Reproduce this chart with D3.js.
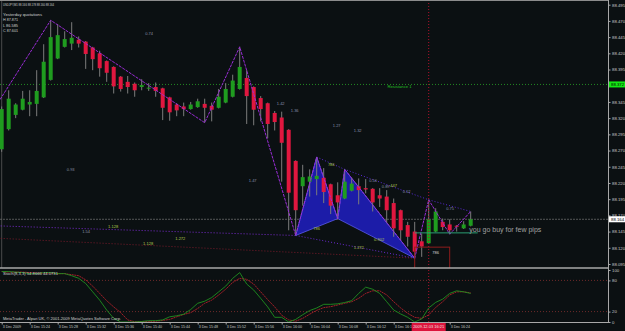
<!DOCTYPE html>
<html>
<head>
<meta charset="utf-8">
<script src="https://cdn.jsdelivr.net/npm/d3@7"></script>
<style>
  body { margin: 0; background: #0b1012; }
  svg { display: block; }
  text { font-family: "Liberation Sans", Arial, sans-serif; }
</style>
</head>
<body>
<div id="chart"></div>
<script>
// USDJPY M1, 3 Dec 2009 15:20 .. 16:27
const opens  = [88.272,88.303,88.325,88.333,88.341,88.342,88.352,88.379,88.412,88.430,
                88.435,88.441,88.438,88.429,88.420,88.408,88.399,88.384,88.376,88.373,
                88.368,88.366,88.368,88.366,88.352,88.341,88.338,88.334,88.337,88.342,
                88.339,88.336,88.344,88.353,88.365,88.382,88.368,88.351,88.343,88.328,
                88.321,88.302,88.254,88.215,88.222,88.226,88.228,88.218,88.201,88.196,
                88.208,88.215,88.212,88.211,88.201,88.199,88.189,88.178,88.155,88.145,
                88.130,88.127,88.145,88.160,88.156,88.154,88.150,88.154]
const highs  = [88.338,88.363,88.343,88.362,88.363,88.394,88.434,88.471,88.465,88.454,
                88.468,88.446,88.439,88.430,88.424,88.409,88.400,88.385,88.385,88.375,
                88.380,88.374,88.375,88.367,88.353,88.343,88.344,88.345,88.350,88.350,
                88.344,88.365,88.374,88.387,88.430,88.394,88.369,88.354,88.344,88.331,
                88.330,88.303,88.255,88.248,88.241,88.260,88.243,88.219,88.221,88.241,
                88.228,88.227,88.226,88.212,88.212,88.209,88.196,88.179,88.160,88.160,
                88.142,88.194,88.181,88.165,88.164,88.155,88.161,88.176]
const lows   = [88.268,88.301,88.320,88.332,88.323,88.323,88.351,88.378,88.411,88.429,
                88.425,88.429,88.396,88.394,88.384,88.376,88.358,88.361,88.358,88.353,
                88.363,88.362,88.353,88.317,88.316,88.323,88.323,88.333,88.336,88.313,
                88.315,88.335,88.343,88.352,88.364,88.311,88.309,88.315,88.289,88.301,
                88.222,88.147,88.139,88.185,88.199,88.201,88.189,88.172,88.165,88.195,
                88.207,88.187,88.204,88.176,88.183,88.158,88.137,88.132,88.122,88.104,
                88.106,88.126,88.144,88.147,88.141,88.145,88.149,88.153]
const closes = [88.334,88.350,88.341,88.350,88.345,88.362,88.407,88.445,88.448,88.442,
                88.444,88.435,88.419,88.411,88.397,88.390,88.369,88.365,88.368,88.363,
                88.371,88.367,88.362,88.336,88.329,88.332,88.334,88.341,88.346,88.336,
                88.333,88.353,88.365,88.378,88.399,88.354,88.333,88.334,88.311,88.314,
                88.282,88.205,88.178,88.229,88.230,88.231,88.206,88.185,88.190,88.222,
                88.219,88.209,88.210,88.190,88.196,88.178,88.150,88.147,88.137,88.114,
                88.122,88.164,88.176,88.152,88.147,88.153,88.156,88.164]

// Stochastic(8,3,3)
const stochMain   = [97,97,96,95,93,93,95,95,93,93, 89,84,74,58,42,23,7,0,0,0,
                     1,2.5,2.5,4,10,12,15,24,36,40, 47,58,69,84,95,73,61.5,45.5,29,9,
                     9,0,5,14,22,27,34,34,35,37.5, 41,55,67,63,55,39,23,15.4,9,0,
                     5.8,26.9,37.8,44,55,60,58,54.9]
const stochSignal = [97,96,96,96,95,94,94,94,93,93, 91,89,81,69,55,41,29,18,4,0.5,
                     1,1,1.5,3,5,10,14.5,18,26,36, 42,52,63,76,84,82,73,58,43,29,
                     13,4,1.5,7,15,22.5,27.6,29.5,32.7,35.9, 39,45.5,55,60,60,52,39,27,16.7,9,
                     7,13.5,28,39,52,58,58,56]
const stochLevels = [20, 80]
const stochTicks = [0, 20, 80, 100]

const priceTicks = [88.495,88.470,88.445,88.420,88.395,88.370,88.345,88.320,88.295,
                    88.270,88.245,88.220,88.195,88.170,88.145,88.120,88.095]
// 16:20 sits under the cursor time tag, so it is not shown
const timeIdx = [0,4,8,12,16,20,24,28,32,36,40,44,48,52,56,64]
const timeLabels = ["3 Dec 2009","3 Dec 15:24","3 Dec 15:28","3 Dec 15:32","3 Dec 15:36",
                    "3 Dec 15:40","3 Dec 15:44","3 Dec 15:48","3 Dec 15:52","3 Dec 15:56",
                    "3 Dec 16:00","3 Dec 16:04","3 Dec 16:08","3 Dec 16:12","3 Dec 16:16",
                    "3 Dec 16:24"]

const bidPrice = 88.164
const resistance = 88.372
const cursorIdx = 61
const cursorLabel = "2009.12.03 16:21"

// zigzag turning points [bar, price]
const zigzag = [[-3,88.302],[7,88.471],[29,88.313],[34,88.430],[42,88.139],[45,88.260],
                [48,88.165],[49,88.241],[59,88.104],[61,88.194],[64,88.141],[67,88.176]]
// harmonic pattern X-A-B and B-C-D
const triXAB = [[42,88.139],[45,88.260],[48,88.165]]
const triBCD = [[48,88.165],[49,88.241],[59,88.104]]
const upperTrend = [[45,88.260],[49,88.241],[61,88.194],[67,88.176]]
const lowerDotted = [[-1,88.154],[42,88.139]]
const xdLine = [[42,88.139],[59,88.104]]
const redDotted = [[-1,88.135],[59,88.104]]
const targetLine = [[59,88.143],[68,88.143]]
const boxBars = [59, 64]
const boxTop = 88.121

const grayText = ["0.74","0.93","1.42","1.36","1.27","1.32","1.47","1.54","0.50","0.89","0.52","0.75"]
const grayIdx  = [20.5, 9.3, 39.3, 41.3, 47.3, 50.3, 35.3, 11.5, 52.5, 54.3, 57.3, 63.5]
const grayPx   = [88.450,88.240,88.343,88.332,88.309,88.301,88.223,88.145,88.224,88.215,88.206,88.181]
const ratioText = ["1.128","1.128","1.272","1.272","0.902","786","786","447"]
const ratioIdx  = [15.2, 20.2, 24.8, 50.3, 53.2, 46.6, 44.5, 55.5]
const ratioPx   = [88.152,88.126,88.134,88.120,88.132,88.249,88.150,88.216]

const W = 625, H = 331
const plotR = 608, mainB = 268, subT = 270, subB = 322

const svg = d3.select("#chart").append("svg").attr("width", W).attr("height", H)
svg.append("rect").attr("width", W).attr("height", H).attr("fill", "#0b1012")

const x = d3.scaleLinear().domain([0, 67]).range([1.7, 470.7])
const y = d3.scaleLinear().domain([88.095, 88.495]).range([264, 4.7])
const ys = d3.scaleLinear().domain([0, 100]).range([subB, subT])

const defs = svg.append("defs")
defs.append("clipPath").attr("id", "cm").append("rect").attr("width", plotR).attr("height", mainB)
defs.append("clipPath").attr("id", "cs").append("rect").attr("y", subT - 1).attr("width", plotR).attr("height", subB - subT + 1)

const main = svg.append("g").attr("clip-path", "url(#cm)")
const line = d3.line().x(d => x(d[0])).y(d => y(d[1]))

// left separator
main.append("line").attr("x1", 1.7).attr("x2", 1.7).attr("y1", 0).attr("y2", mainB)
  .attr("stroke", "#5a5a5a").attr("stroke-width", 0.8)

// horizontal levels
main.append("line").attr("x1", 0).attr("x2", plotR).attr("y1", y(resistance)).attr("y2", y(resistance))
  .attr("stroke", "#238a23").attr("stroke-dasharray", "1,2")
main.append("line").attr("x1", 0).attr("x2", plotR).attr("y1", y(bidPrice)).attr("y2", y(bidPrice))
  .attr("stroke", "#6a6a6a").attr("stroke-width", 0.8).attr("stroke-dasharray", "2,1")

// dotted fib lines
main.append("path").attr("d", line(lowerDotted)).attr("fill", "none").attr("stroke", "#7a2ad0").attr("stroke-dasharray", "1,2")
main.append("path").attr("d", line(redDotted)).attr("fill", "none").attr("stroke", "#7a1a2a").attr("stroke-dasharray", "1,2")
main.append("path").attr("d", line(xdLine)).attr("fill", "none").attr("stroke", "#6a2ad0").attr("stroke-dasharray", "1,2")

// pattern
;[triXAB, triBCD].forEach(t => {
  main.append("path").attr("d", line(t) + "Z").attr("fill", "#1c1ca8").attr("stroke", "#5a5af0").attr("stroke-width", 0.8)
})
main.append("path").attr("d", line(upperTrend)).attr("fill", "none").attr("stroke", "#5a2ad8").attr("stroke-dasharray", "1,2")

// candles
const idx = d3.range(opens.length)
main.append("g").selectAll("line").data(idx).join("line")
  .attr("x1", i => x(i)).attr("x2", i => x(i))
  .attr("y1", i => y(highs[i])).attr("y2", i => y(lows[i]))
  .attr("stroke", "#7c7c7c").attr("stroke-width", 1)
main.append("g").selectAll("rect").data(idx).join("rect")
  .attr("x", i => x(i) - 2).attr("width", 4)
  .attr("y", i => Math.min(y(opens[i]), y(closes[i])))
  .attr("height", i => Math.max(1, Math.abs(y(opens[i]) - y(closes[i]))))
  .attr("fill", i => closes[i] >= opens[i] ? "#1f9c1f" : "#e0173f")

// zigzag
main.append("path").attr("d", line(zigzag)).attr("fill", "none")
  .attr("stroke", "#9a2cd6").attr("stroke-width", 1).attr("stroke-dasharray", "3,1")

// target line and box
main.append("path").attr("d", line(targetLine)).attr("stroke", "#2a9e72").attr("stroke-width", 1)
main.append("rect").attr("x", x(boxBars[0])).attr("y", y(boxTop))
  .attr("width", x(boxBars[1]) - x(boxBars[0])).attr("height", 40)
  .attr("fill", "none").attr("stroke", "#8e1c1c").attr("stroke-width", 1)

// labels
main.append("g").selectAll("text").data(grayText).join("text")
  .attr("x", (d, i) => x(grayIdx[i])).attr("y", (d, i) => y(grayPx[i]))
  .attr("dy", "0.35em").attr("font-size", 4).attr("fill", "#8a90a8").text(d => d)
main.append("g").selectAll("text").data(ratioText).join("text")
  .attr("x", (d, i) => x(ratioIdx[i])).attr("y", (d, i) => y(ratioPx[i]))
  .attr("dy", "0.35em").attr("font-size", 4).attr("fill", "#b4c850").text(d => d)
main.append("text").attr("x", x(61.5)).attr("y", y(88.113)).attr("dy", "0.35em")
  .attr("font-size", 4).attr("fill", "#d8d8d8").text("786")
main.append("text").attr("x", x(55.1)).attr("y", y(88.368)).attr("dy", "0.35em")
  .attr("font-size", 4.2).attr("fill", "#22c022").text("Resistance 1")
main.append("text").attr("x", x(66.8)).attr("y", y(88.149)).attr("dy", "0.35em")
  .attr("font-size", 7.5).attr("fill", "#a0a0a0")
  .attr("textLength", 72).attr("lengthAdjust", "spacingAndGlyphs").text("you go buy for  few pips")

// info text
const info = [["USDJPY,M1  88.166 88.178 88.160 88.164", 5, 51],
              ["Yesterday quotations", 14.5, 39], ["H 87.871", 20, 15], ["L 86.585", 25.3, 15], ["C 87.601", 30.5, 15]]
svg.append("g").selectAll("text").data(info).join("text")
  .attr("x", 3).attr("y", d => d[1]).attr("dy", "0.35em").attr("font-size", 4.2).attr("fill", "#d0d0d0")
  .attr("textLength", d => d[2]).attr("lengthAdjust", "spacingAndGlyphs").text(d => d[0])

// sub window
const sub = svg.append("g").attr("clip-path", "url(#cs)")
stochLevels.forEach(v => sub.append("line").attr("x1", 0).attr("x2", plotR).attr("y1", ys(v)).attr("y2", ys(v))
  .attr("stroke", "#6e2a2a").attr("stroke-dasharray", "1,2"))
const sline = d3.line().x((d, i) => x(i)).y(d => ys(d))
sub.append("path").attr("d", sline(stochSignal)).attr("fill", "none").attr("stroke", "#b0202a").attr("stroke-width", 0.9).attr("stroke-dasharray", "2,0.6")
sub.append("path").attr("d", sline(stochMain)).attr("fill", "none").attr("stroke", "#1f8f1f").attr("stroke-width", 0.9)
svg.append("text").attr("x", 3).attr("y", 273.5).attr("dy", "0.35em").attr("font-size", 4).attr("fill", "#d0d0d0")
  .attr("textLength", 55).attr("lengthAdjust", "spacingAndGlyphs").text("Stoch(8,3,3) 54.8666 44.0731")
svg.append("text").attr("x", 3).attr("y", 320).attr("font-size", 4).attr("fill", "#d0d0d0")
  .attr("textLength", 118).attr("lengthAdjust", "spacingAndGlyphs")
  .text("MetaTrader - Alpari UK, \u00a9 2001-2009 MetaQuotes Software Corp.")

// cursor line
svg.append("line").attr("x1", x(cursorIdx)).attr("x2", x(cursorIdx)).attr("y1", 0).attr("y2", subB)
  .attr("stroke", "#b0102a").attr("stroke-dasharray", "1,2")

// frame
svg.append("line").attr("x1", 0).attr("x2", plotR).attr("y1", 0.5).attr("y2", 0.5).attr("stroke", "#8c8c8c")
svg.append("line").attr("x1", 0).attr("x2", plotR).attr("y1", mainB).attr("y2", mainB).attr("stroke", "#a8a8a8").attr("stroke-width", 1.6)
svg.append("line").attr("x1", 0).attr("x2", plotR).attr("y1", subB + 0.5).attr("y2", subB + 0.5).attr("stroke", "#a8a8a8")
svg.append("line").attr("x1", plotR + 0.5).attr("x2", plotR + 0.5).attr("y1", 0).attr("y2", subB + 1).attr("stroke", "#a8a8a8")

// axes
const ax = svg.append("g").attr("transform", `translate(${plotR + 0.5},0)`)
  .call(d3.axisRight(y).tickValues(priceTicks).tickSize(2).tickPadding(1.5).tickFormat(d3.format(".3f")))
const axs = svg.append("g").attr("transform", `translate(${plotR + 0.5},0)`)
  .call(d3.axisRight(ys).tickValues(stochTicks).tickSize(2).tickPadding(1.5))
const axt = svg.append("g").attr("transform", `translate(0,${subB + 0.5})`)
  .call(d3.axisBottom(x).tickValues(timeIdx).tickSize(2).tickPadding(1).tickFormat((d, i) => timeLabels[i]))
;[ax, axs, axt].forEach(g => {
  g.select(".domain").remove()
  g.selectAll("line").attr("stroke", "#a8a8a8")
  g.selectAll("text").attr("fill", "#c8c8c8").attr("font-size", 4.3).attr("font-family", "Liberation Sans, Arial, sans-serif")
})
axt.selectAll("text").attr("text-anchor", "start").attr("x", 0.5).attr("font-size", 3.6)
// the resistance tag covers its neighbouring tick label
ax.selectAll(".tick").filter(d => Math.abs(y(d) - y(resistance)) < 4).select("text").remove()

// price tags
const tag = (p, bg, txt) => {
  const g = svg.append("g").attr("transform", `translate(${plotR + 1},${y(p)})`)
  g.append("rect").attr("x", 0).attr("y", -3).attr("width", 17).attr("height", 6).attr("fill", bg)
  g.append("text").attr("x", 2).attr("dy", "0.35em").attr("font-size", 4.3).attr("fill", txt).text(d3.format(".3f")(p))
}
tag(resistance, "#14e814", "#000")
tag(bidPrice, "#ffffff", "#000")

// cursor time tag
const ct = svg.append("g").attr("transform", `translate(${x(cursorIdx)},${subB + 1})`)
ct.append("rect").attr("x", -17).attr("width", 34).attr("height", 8).attr("fill", "#dc143c")
ct.append("text").attr("y", 4).attr("dy", "0.35em").attr("text-anchor", "middle").attr("font-size", 4)
  .attr("fill", "#f0e0e0").text(cursorLabel)
</script>
</body>
</html>
